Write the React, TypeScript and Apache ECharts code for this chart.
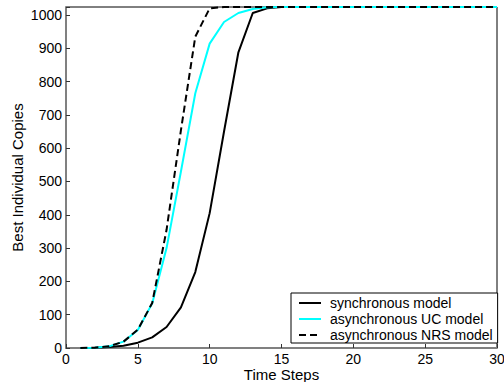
import React, { useEffect, useRef } from "react";
import * as echarts from "echarts";

const steps = [1, 2, 3, 4, 5, 6, 7, 8, 9, 10, 11, 12, 13, 14, 15, 16, 17, 18, 19, 20, 21, 22, 23, 24, 25, 26, 27, 28, 29, 30];
const syncModel = [0, 1, 3, 7, 16, 32, 63, 122, 228, 405, 650, 888, 1006, 1020, 1024, 1024, 1024, 1024, 1024, 1024, 1024, 1024, 1024, 1024, 1024, 1024, 1024, 1024, 1024, 1024];
const ucModel = [0, 1, 5, 19, 54, 134, 300, 530, 765, 914, 979, 1006, 1018, 1023, 1024, 1024, 1024, 1024, 1024, 1024, 1024, 1024, 1024, 1024, 1024, 1024, 1024, 1024, 1024, 1024];
const nrsModel = [0, 1, 5, 19, 55, 135, 355, 654, 935, 1020, 1024, 1024, 1024, 1024, 1024, 1024, 1024, 1024, 1024, 1024, 1024, 1024, 1024, 1024, 1024, 1024, 1024, 1024, 1024, 1024];
const seriesNames = ["synchronous model", "asynchronous UC model", "asynchronous NRS model"];

const FONT = "'Liberation Sans', Arial, Helvetica, sans-serif";

export default function App() {
  const ref = useRef<HTMLDivElement>(null);
  useEffect(() => {
    if (!ref.current) return;
    const chart = echarts.init(ref.current, null, { renderer: "svg" });
    const pair = (arr: number[]) => steps.map((s, i) => [s, arr[i]]);
    chart.setOption({
      animation: false,
      backgroundColor: "#fff",
      textStyle: { fontFamily: FONT },
      grid: {
        left: 66,
        right: 7,
        top: 7,
        bottom: 34,
        outerBoundsMode: "none",
        containLabel: false,
        show: true,
        borderColor: "#000",
        borderWidth: 1,
        backgroundColor: "transparent",
      },
      legend: {
        orient: "vertical",
        left: 291,
        top: 293,
        backgroundColor: "#fff",
        borderColor: "#000",
        borderWidth: 1,
        padding: [3, 5, 1, 7],
        itemWidth: 22,
        itemHeight: 14,
        itemGap: 2,
        itemStyle: { opacity: 0 },
        textStyle: { fontFamily: FONT, fontSize: 14, color: "#000", padding: [0, 0, 0, 4] },
        data: seriesNames,
      },
      xAxis: {
        type: "value",
        min: 0,
        max: 30,
        interval: 5,
        name: "Time Steps",
        nameLocation: "middle",
        nameGap: 19,
        nameMoveOverlap: false,
        nameTextStyle: { fontFamily: FONT, fontSize: 15, lineHeight: 15, color: "#000" },
        axisLine: { show: true, lineStyle: { color: "#808080", width: 2 } },
        axisTick: { show: true, inside: true, length: 4, lineStyle: { color: "#333" } },
        axisLabel: { fontFamily: FONT, fontSize: 14, lineHeight: 14, color: "#000", margin: 4 },
        splitLine: { show: false },
      },
      yAxis: {
        type: "value",
        min: 0,
        max: 1024,
        interval: 100,
        name: "Best Individual Copies",
        nameLocation: "middle",
        nameGap: 41,
        nameMoveOverlap: false,
        nameTextStyle: { fontFamily: FONT, fontSize: 15, color: "#000" },
        axisLine: { show: true, lineStyle: { color: "#808080", width: 2 } },
        axisTick: { show: true, inside: true, length: 4, lineStyle: { color: "#333" } },
        axisLabel: {
          fontFamily: FONT,
          fontSize: 14,
          color: "#000",
          margin: 4,
          formatter: (v: number) => (v % 100 === 0 ? String(v) : ""),
        },
        splitLine: { show: false },
      },
      series: [
        {
          name: seriesNames[0],
          type: "line",
          data: pair(syncModel),
          symbol: "none",
          clip: false,
          lineStyle: { color: "#000", width: 2 },
          itemStyle: { color: "#000" },
          z: 3,
        },
        {
          name: seriesNames[1],
          type: "line",
          data: pair(ucModel),
          symbol: "none",
          clip: false,
          lineStyle: { color: "#00ffff", width: 2 },
          itemStyle: { color: "#00ffff" },
          z: 4,
        },
        {
          name: seriesNames[2],
          type: "line",
          data: pair(nrsModel),
          symbol: "none",
          clip: false,
          lineStyle: { color: "#000", width: 2, type: [7, 4] },
          itemStyle: { color: "#000" },
          z: 5,
        },
      ],
    });
    return () => chart.dispose();
  }, []);
  return <div ref={ref} style={{ width: 504, height: 382, position: "absolute", left: 0, top: 0 }} />;
}
